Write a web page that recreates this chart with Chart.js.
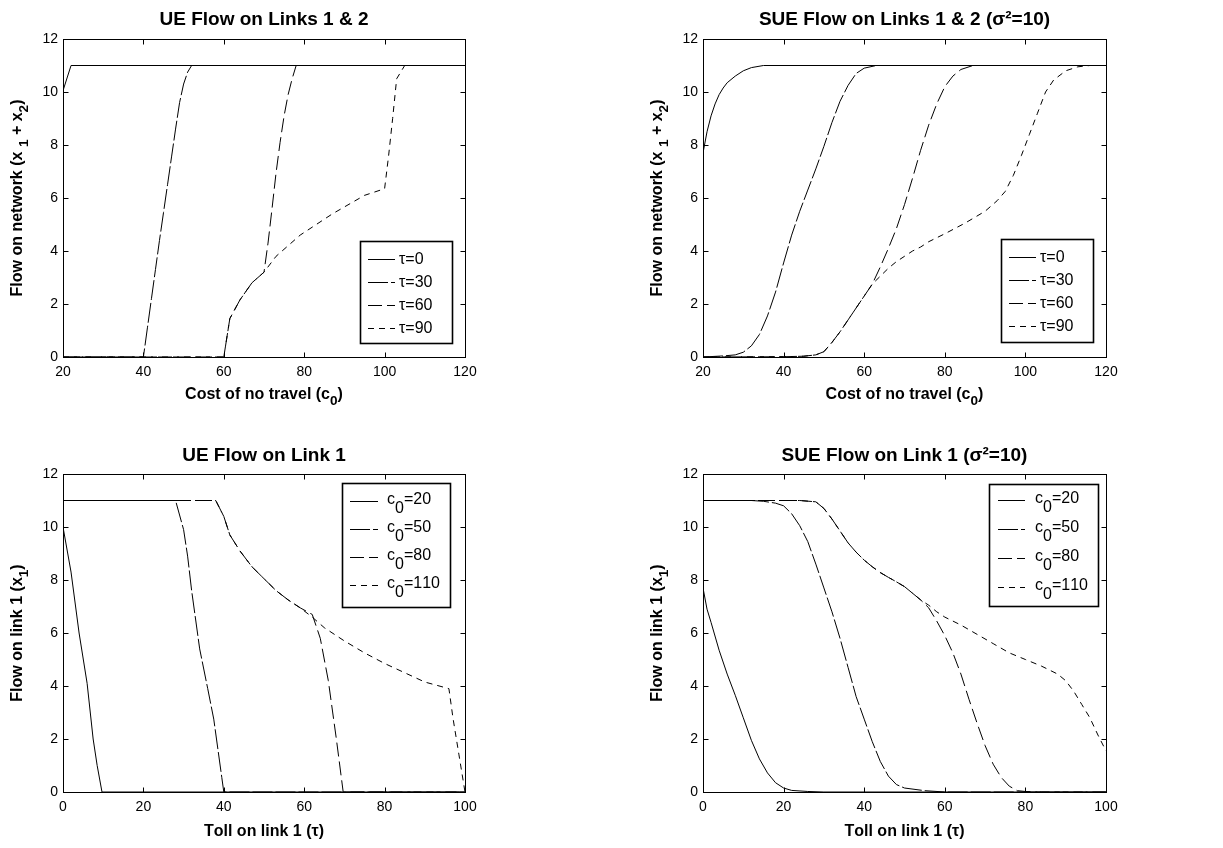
<!DOCTYPE html>
<html>
<head>
<meta charset="utf-8">
<script src="https://cdn.jsdelivr.net/npm/chart.js@4.4.1/dist/chart.umd.min.js"></script>
<style>
  html, body { margin: 0; padding: 0; background: #fff; }
  #wrap { position: relative; width: 1223px; height: 848px; }
  .panel { position: absolute; width: 611px; height: 424px; }
</style>
</head>
<body>
<div id="wrap">
  <div class="panel" style="left:0px;top:0px"><canvas id="chart_ueNet"></canvas></div>
  <div class="panel" style="left:612px;top:0px"><canvas id="chart_sueNet"></canvas></div>
  <div class="panel" style="left:0px;top:424px"><canvas id="chart_ueLink"></canvas></div>
  <div class="panel" style="left:612px;top:424px"><canvas id="chart_sueLink"></canvas></div>
</div>
<script>
// --- data: [x, y] pairs ---
// top row: flow on network vs cost of no travel (c0), one curve per toll
var tauLabels = ["τ=0", "τ=30", "τ=60", "τ=90"];
var c0Ticks = [20, 40, 60, 80, 100, 120];

var ueNetTau0 = [[20, 10.05], [22, 11], [120, 11]];
var ueNetTau30 = [[20, 0], [40, 0], [41, 1.1], [42, 2.2], [43, 3.3], [44, 4.4], [45, 5.45], [46, 6.5], [47, 7.55], [48, 8.6], [49, 9.6], [50, 10.3], [51, 10.75], [52, 11], [120, 11]];
var ueNetTau60 = [[20, 0], [60, 0], [61.5, 1.45], [64, 2.15], [67, 2.8], [70, 3.2], [71, 4.3], [72, 5.6], [73, 6.95], [74, 8.1], [75, 9.1], [76, 9.9], [77, 10.5], [78, 11], [120, 11]];
var ueNetTau90 = [[20, 0], [60, 0], [61.5, 1.45], [64, 2.15], [67, 2.8], [70, 3.2], [73, 3.8], [79, 4.6], [87, 5.4], [95, 6.1], [100, 6.35], [101, 7.6], [102, 9], [103, 10.5], [105, 11], [120, 11]];

var sueNetTau0 = [[20, 7.7], [21, 8.5], [22, 9.1], [23, 9.55], [24, 9.9], [25, 10.15], [26, 10.35], [28, 10.6], [30, 10.8], [32, 10.92], [35, 11], [120, 11]];
var sueNetTau30 = [[20, 0], [25, 0.04], [28, 0.08], [30, 0.18], [32, 0.42], [34, 0.85], [36, 1.55], [38, 2.45], [40, 3.55], [42, 4.6], [44, 5.5], [46, 6.3], [48, 7.1], [50, 7.95], [52, 8.85], [54, 9.65], [56, 10.25], [58, 10.7], [60, 10.9], [63, 11], [120, 11]];
var sueNetTau60 = [[20, 0], [40, 0.01], [45, 0.03], [48, 0.08], [50, 0.2], [52, 0.55], [54, 0.95], [56, 1.4], [58, 1.85], [60, 2.3], [62, 2.75], [64, 3.4], [66, 4.1], [68, 4.85], [70, 5.75], [72, 6.75], [74, 7.8], [76, 8.75], [78, 9.55], [80, 10.2], [82, 10.6], [84, 10.85], [87, 11], [120, 11]];
var sueNetTau90 = [[20, 0], [40, 0.01], [45, 0.03], [48, 0.08], [50, 0.2], [52, 0.55], [54, 0.95], [56, 1.4], [58, 1.85], [60, 2.3], [62, 2.75], [64, 3.05], [66, 3.35], [68, 3.6], [70, 3.8], [72, 4.0], [74, 4.15], [76, 4.35], [80, 4.65], [85, 5.05], [90, 5.5], [93, 5.9], [95, 6.25], [97, 6.85], [99, 7.6], [101, 8.4], [103, 9.2], [105, 10.0], [107, 10.45], [110, 10.8], [113, 10.95], [116, 11], [120, 11]];

// bottom row: flow on link 1 vs toll, one curve per cost of no travel
var c0Labels = ["c_0=20", "c_0=50", "c_0=80", "c_0=110"];
var tollTicks = [0, 20, 40, 60, 80, 100];

var ueLinkC20 = [[0, 10], [2, 8.3], [4, 6.0], [6, 4.1], [7.5, 2.0], [8.5, 1.0], [9.7, 0], [100, 0]];
var ueLinkC50 = [[0, 11], [28, 11], [30, 9.9], [31, 8.9], [32, 7.6], [34, 5.4], [36, 3.9], [37.5, 2.75], [39.5, 0.55], [40, 0], [100, 0]];
var ueLinkC80 = [[0, 11], [38, 11], [40, 10.4], [41.5, 9.7], [44, 9.1], [47, 8.5], [50, 8.05], [53, 7.6], [56, 7.25], [59, 6.95], [62, 6.7], [64, 5.8], [66, 4.2], [68, 2.0], [69.7, 0], [100, 0]];
var ueLinkC110 = [[0, 11], [38, 11], [40, 10.4], [41.5, 9.7], [44, 9.1], [47, 8.5], [50, 8.05], [53, 7.6], [56, 7.25], [59, 6.95], [62, 6.6], [65, 6.2], [70, 5.7], [75, 5.25], [80, 4.85], [85, 4.5], [90, 4.15], [96, 3.9], [97, 2.8], [98.5, 1.4], [100, 0]];

var sueLinkC20 = [[0, 7.7], [1, 6.9], [2, 6.4], [4, 5.35], [6, 4.45], [8, 3.65], [10, 2.8], [12, 1.95], [14, 1.25], [16, 0.72], [18, 0.35], [20, 0.15], [22, 0.06], [26, 0.02], [30, 0], [100, 0]];
var sueLinkC50 = [[0, 11], [12, 11], [15, 10.97], [18, 10.9], [20, 10.8], [22, 10.5], [24, 10.05], [26, 9.45], [28, 8.6], [30, 7.7], [32, 6.8], [34, 5.8], [36, 4.7], [38, 3.6], [40, 2.75], [42, 1.9], [44, 1.15], [46, 0.6], [48, 0.28], [50, 0.15], [55, 0.05], [60, 0], [100, 0]];
var sueLinkC80 = [[0, 11], [24, 11], [28, 10.95], [30, 10.7], [32, 10.3], [34, 9.85], [36, 9.4], [38, 9.05], [40, 8.75], [42, 8.5], [44, 8.28], [46, 8.1], [48, 7.93], [50, 7.75], [52, 7.5], [54, 7.25], [56, 6.95], [58, 6.45], [60, 5.9], [62, 5.25], [64, 4.45], [66, 3.5], [68, 2.6], [70, 1.75], [72, 1.05], [74, 0.55], [76, 0.22], [78, 0.05], [80, 0.02], [84, 0], [100, 0]];
var sueLinkC110 = [[0, 11], [24, 11], [28, 10.95], [30, 10.7], [32, 10.3], [34, 9.85], [36, 9.4], [38, 9.05], [40, 8.75], [42, 8.5], [44, 8.28], [46, 8.1], [48, 7.93], [50, 7.75], [52, 7.5], [54, 7.25], [56, 7.05], [58, 6.8], [60, 6.6], [64, 6.3], [68, 5.95], [72, 5.6], [76, 5.25], [80, 5.0], [84, 4.75], [88, 4.45], [90, 4.2], [92, 3.8], [94, 3.3], [96, 2.8], [98, 2.15], [100, 1.55]];

var flowTicks = [0, 2, 4, 6, 8, 10, 12];

// solid, dotted (shows almost solid), dashed, dash-dot
var lineDashes = [[], [20, 3], [14, 5], [6, 5]];

var FONT = "'Liberation Sans', Arial, Helvetica, sans-serif";
Chart.defaults.font.family = FONT;
Chart.defaults.color = '#000';

// "c_0=20": the char after "_" is drawn lowered and a bit smaller
function subParts(text) {
  var parts = [];
  for (var i = 0; i < text.length; i++) {
    if (text[i] === '_') { parts.push({ t: text[i + 1], sub: true }); i++; }
    else parts.push({ t: text[i], sub: false });
  }
  return parts;
}

function measureSubText(ctx, text, size, weight, subScale) {
  var w = 0;
  subParts(text).forEach(function (p) {
    ctx.font = weight + ' ' + (p.sub ? size * subScale : size) + 'px ' + FONT;
    w += ctx.measureText(p.t).width;
  });
  return w;
}

function drawSubText(ctx, text, x, y, size, weight, subScale, subDrop) {
  subParts(text).forEach(function (p) {
    ctx.font = weight + ' ' + (p.sub ? size * subScale : size) + 'px ' + FONT;
    ctx.fillText(p.t, x, p.sub ? y + subDrop : y);
    x += ctx.measureText(p.t).width;
  });
}

// matlab style frame, inside tick marks, axis labels and the boxed legend
var matlabBox = {
  id: 'matlabBox',
  afterDraw: function (chart, args, opts) {
    var ctx = chart.ctx;
    var a = chart.chartArea;
    var xs = chart.scales.x, ys = chart.scales.y;
    var L = Math.round(a.left) + 0.5, R = Math.round(a.right) + 0.5;
    var T = Math.round(a.top) + 0.5, B = Math.round(a.bottom) + 0.5;
    ctx.save();
    ctx.strokeStyle = '#000';
    ctx.fillStyle = '#000';
    ctx.lineWidth = 1;
    ctx.setLineDash([]);
    ctx.strokeRect(L, T, R - L, B - T);
    ctx.beginPath();
    xs.ticks.forEach(function (t) {
      var px = Math.round(xs.getPixelForValue(t.value)) + 0.5;
      ctx.moveTo(px, B); ctx.lineTo(px, B - 5);
      ctx.moveTo(px, T); ctx.lineTo(px, T + 5);
    });
    ys.ticks.forEach(function (t) {
      var py = Math.round(ys.getPixelForValue(t.value)) + 0.5;
      ctx.moveTo(L, py); ctx.lineTo(L + 5, py);
      ctx.moveTo(R, py); ctx.lineTo(R - 5, py);
    });
    ctx.stroke();

    // axis labels
    ctx.textBaseline = 'middle';
    ctx.textAlign = 'left';
    var xw = measureSubText(ctx, opts.xTitle, 16, 'bold', 0.85);
    drawSubText(ctx, opts.xTitle, (a.left + a.right) / 2 - xw / 2, a.bottom + opts.xTitleGap, 16, 'bold', 0.85, 6);
    var yw = measureSubText(ctx, opts.yTitle, 16, 'bold', 0.85);
    ctx.save();
    ctx.translate(a.left - 45, (a.top + a.bottom) / 2);
    ctx.rotate(-Math.PI / 2);
    drawSubText(ctx, opts.yTitle, -yw / 2, 0, 16, 'bold', 0.85, 6);
    ctx.restore();

    var lg = opts.legend;
    if (lg) {
      var bx = Math.round(a.right - lg.dx - lg.w);
      var by = lg.corner === 'top' ? Math.round(a.top + lg.dy) : Math.round(a.bottom - lg.dy - lg.h);
      ctx.fillStyle = '#fff';
      ctx.fillRect(bx, by, lg.w, lg.h);
      ctx.lineWidth = 1.6;
      ctx.strokeRect(bx + 0.5, by + 0.5, lg.w, lg.h);
      ctx.fillStyle = '#000';
      chart.data.datasets.forEach(function (ds, i) {
        var ry = Math.round(by + lg.first + i * lg.gap) + 0.5;
        ctx.lineWidth = 1;
        ctx.setLineDash(ds.borderDash || []);
        ctx.beginPath();
        ctx.moveTo(bx + lg.lineFrom, ry);
        ctx.lineTo(bx + lg.lineTo, ry);
        ctx.stroke();
        ctx.setLineDash([]);
        drawSubText(ctx, ds.label, bx + lg.textX, ry - lg.lift, 16, 'normal', 1, 9);
      });
    }
    ctx.restore();
  }
};

function toPoints(arr) {
  return arr.map(function (p) { return { x: p[0], y: p[1] }; });
}

function makePanel(id, series, labels, xTicks, p) {
  var datasets = [];
  for (var i = 0; i < series.length; i++) {
    datasets.push({
      label: labels[i],
      data: toPoints(series[i]),
      borderColor: '#000',
      borderWidth: 1,
      borderDash: lineDashes[i],
      pointRadius: 0,
      tension: 0,
      fill: false
    });
  }
  new Chart(document.getElementById(id), {
    type: 'line',
    data: { datasets: datasets },
    options: {
      responsive: true,
      maintainAspectRatio: false,
      animation: false,
      events: [],
      layout: { padding: { left: p.padLeft, right: p.padRight, top: 0, bottom: 0 } },
      plugins: {
        legend: { display: false },
        tooltip: { enabled: false },
        title: {
          display: true,
          text: p.title,
          fullSize: false,
          color: '#000',
          font: { size: 19, weight: 'bold' },
          padding: { top: p.titleTop, bottom: p.titleBottom }
        },
        matlabBox: { legend: p.legend, xTitle: p.xTitle, yTitle: p.yTitle, xTitleGap: p.xTitleGap }
      },
      scales: {
        x: {
          type: 'linear',
          min: xTicks[0],
          max: xTicks[xTicks.length - 1],
          afterBuildTicks: function (s) { s.ticks = xTicks.map(function (v) { return { value: v }; }); },
          ticks: { padding: 7, font: { size: 14 }, color: '#000' },
          grid: { display: false, drawTicks: false },
          border: { display: false },
          afterFit: function (s) { s.height = p.xAxisHeight; }
        },
        y: {
          type: 'linear',
          min: 0,
          max: 12,
          afterBuildTicks: function (s) { s.ticks = flowTicks.map(function (v) { return { value: v }; }); },
          ticks: { padding: 5, font: { size: 14 }, color: '#000' },
          grid: { display: false, drawTicks: false },
          border: { display: false },
          afterFit: function (s) { s.width = 63; }
        }
      }
    },
    plugins: [matlabBox]
  });
}

makePanel('chart_ueNet', [ueNetTau0, ueNetTau30, ueNetTau60, ueNetTau90], tauLabels, c0Ticks, {
  title: 'UE Flow on Links 1 & 2',
  xTitle: 'Cost of no travel (c_0)',
  yTitle: 'Flow on network (x _1 + x_2)',
  padLeft: 0, padRight: 146, titleTop: 8.6, titleBottom: 7.6,
  xAxisHeight: 67, xTitleGap: 38,
  legend: { corner: 'bottom', dx: 13, dy: 14, w: 92, h: 102, first: 18, gap: 23, lineFrom: 8, lineTo: 35, textX: 39, lift: 0 }
});

makePanel('chart_sueNet', [sueNetTau0, sueNetTau30, sueNetTau60, sueNetTau90], tauLabels, c0Ticks, {
  title: 'SUE Flow on Links 1 & 2 (σ²=10)',
  xTitle: 'Cost of no travel (c_0)',
  yTitle: 'Flow on network (x _1 + x_2)',
  padLeft: 28, padRight: 117, titleTop: 8.6, titleBottom: 7.6,
  xAxisHeight: 67, xTitleGap: 38,
  legend: { corner: 'bottom', dx: 13, dy: 15, w: 92, h: 103, first: 18, gap: 23, lineFrom: 8, lineTo: 35, textX: 39, lift: 0 }
});

makePanel('chart_ueLink', [ueLinkC20, ueLinkC50, ueLinkC80, ueLinkC110], c0Labels, tollTicks, {
  title: 'UE Flow on Link 1',
  xTitle: 'Toll on link 1 (τ)',
  yTitle: 'Flow on link 1 (x_1)',
  padLeft: 0, padRight: 146, titleTop: 20.6, titleBottom: 6.6,
  xAxisHeight: 56, xTitleGap: 40,
  legend: { corner: 'top', dx: 15, dy: 9, w: 108, h: 124, first: 18, gap: 28, lineFrom: 8, lineTo: 36, textX: 45, lift: 2 }
});

makePanel('chart_sueLink', [sueLinkC20, sueLinkC50, sueLinkC80, sueLinkC110], c0Labels, tollTicks, {
  title: 'SUE Flow on Link 1 (σ²=10)',
  xTitle: 'Toll on link 1 (τ)',
  yTitle: 'Flow on link 1 (x_1)',
  padLeft: 28, padRight: 117, titleTop: 20.6, titleBottom: 6.6,
  xAxisHeight: 56, xTitleGap: 40,
  legend: { corner: 'top', dx: 8, dy: 10, w: 109, h: 122, first: 16, gap: 29, lineFrom: 9, lineTo: 36, textX: 46, lift: 2 }
});
</script>
</body>
</html>
